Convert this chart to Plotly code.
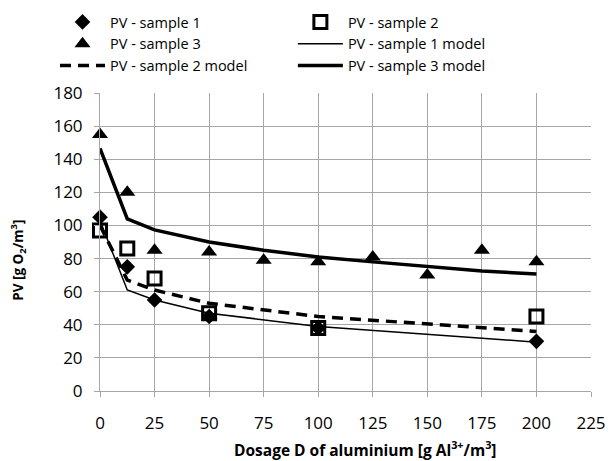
import plotly.graph_objects as go

# Measured PV values for the three samples
dose_12 = [0, 12.5, 25, 50, 100, 200]
pv_sample1 = [105, 75, 55, 45, 38, 30]
pv_sample2 = [97, 86, 68, 47, 38, 45]

dose_3 = [0, 12.5, 25, 50, 75, 100, 125, 150, 175, 200]
pv_sample3 = [155, 120, 85, 84, 79, 78, 81, 70, 85, 78]

# Model curves evaluated at the dosing points
model_sample1 = [103, 61, 55, 47, 39, 29.5]
model_sample2 = [100, 67, 61, 53, 45, 36]
model_sample3 = [146.5, 104, 97.3, 90, 85, 81, 78, 75, 72.5, 70.6]

x_ticks = [0, 25, 50, 75, 100, 125, 150, 175, 200, 225]
y_ticks = [0, 20, 40, 60, 80, 100, 120, 140, 160, 180]

x_title = "<b>Dosage D of aluminium [g Al<sup>3+</sup>/m<sup>3</sup>]</b>"
y_title = "<b>PV [g O<sub>2</sub>/m<sup>3</sup>]</b>"

FONT = "Open Sans"
GRID = "#a6a6a6"

fig = go.Figure()
# left legend column: sample 1, sample 3, sample 2 model
# right legend column: sample 2, sample 1 model, sample 3 model
fig.add_trace(go.Scatter(x=dose_12, y=pv_sample1, mode="markers", name="PV - sample 1",
                         legend="legend", legendrank=1, cliponaxis=False,
                         marker=dict(symbol="diamond", size=12, color="black")))
fig.add_trace(go.Scatter(x=dose_12, y=pv_sample2, mode="markers", name="PV - sample 2",
                         legend="legend2", legendrank=1, cliponaxis=False,
                         marker=dict(symbol="square-open", size=13, color="black",
                                     line=dict(width=3, color="black"))))
fig.add_trace(go.Scatter(x=dose_3, y=pv_sample3, mode="markers", name="PV - sample 3",
                         legend="legend", legendrank=2, cliponaxis=False,
                         marker=dict(symbol="triangle-up", size=14, color="black")))
fig.add_trace(go.Scatter(x=dose_12, y=model_sample1, mode="lines", name="PV - sample 1 model",
                         legend="legend2", legendrank=2,
                         line=dict(color="black", width=1.5)))
fig.add_trace(go.Scatter(x=dose_12, y=model_sample2, mode="lines", name="PV - sample 2 model",
                         legend="legend", legendrank=3,
                         line=dict(color="black", width=3.5, dash="11px,7px")))
fig.add_trace(go.Scatter(x=dose_3, y=model_sample3, mode="lines", name="PV - sample 3 model",
                         legend="legend2", legendrank=3,
                         line=dict(color="black", width=3.5)))

legend_common = dict(orientation="v", xref="container", yref="container",
                     yanchor="top", y=0.987, xanchor="left",
                     itemwidth=45, font=dict(family=FONT, size=14.5),
                     bgcolor="rgba(0,0,0,0)", traceorder="normal")

axis_common = dict(showgrid=True, gridcolor=GRID, gridwidth=1, zeroline=False,
                   showline=True, linecolor=GRID, linewidth=1, automargin=False,
                   ticks="outside", ticklen=5, tickcolor=GRID,
                   tickfont=dict(family=FONT, size=17))

fig.update_layout(
    width=614, height=461,
    margin=dict(l=100, r=23, t=93, b=70, autoexpand=False),
    paper_bgcolor="white", plot_bgcolor="white",
    font=dict(family=FONT, size=15, color="black"),
    legend=dict(x=0.0896, **legend_common),
    legend2=dict(x=0.477, **legend_common),
    xaxis=dict(range=[0, 225], tickvals=x_ticks, ticktext=[str(v) for v in x_ticks],
               ticklabelstandoff=12, **axis_common),
    yaxis=dict(range=[0, 180], tickvals=y_ticks, ticktext=[str(v) for v in y_ticks],
               ticklabelstandoff=8, **axis_common),
    annotations=[
        dict(text=x_title, xref="paper", yref="paper", x=0.54, y=-0.195,
             xanchor="center", yanchor="middle", showarrow=False,
             font=dict(family=FONT, size=15.5)),
        dict(text=y_title, xref="paper", yref="paper", x=-0.167, y=0.437,
             xanchor="center", yanchor="middle", showarrow=False, textangle=-90,
             font=dict(family=FONT, size=13.5)),
    ],
)

fig.write_html("out.html")
